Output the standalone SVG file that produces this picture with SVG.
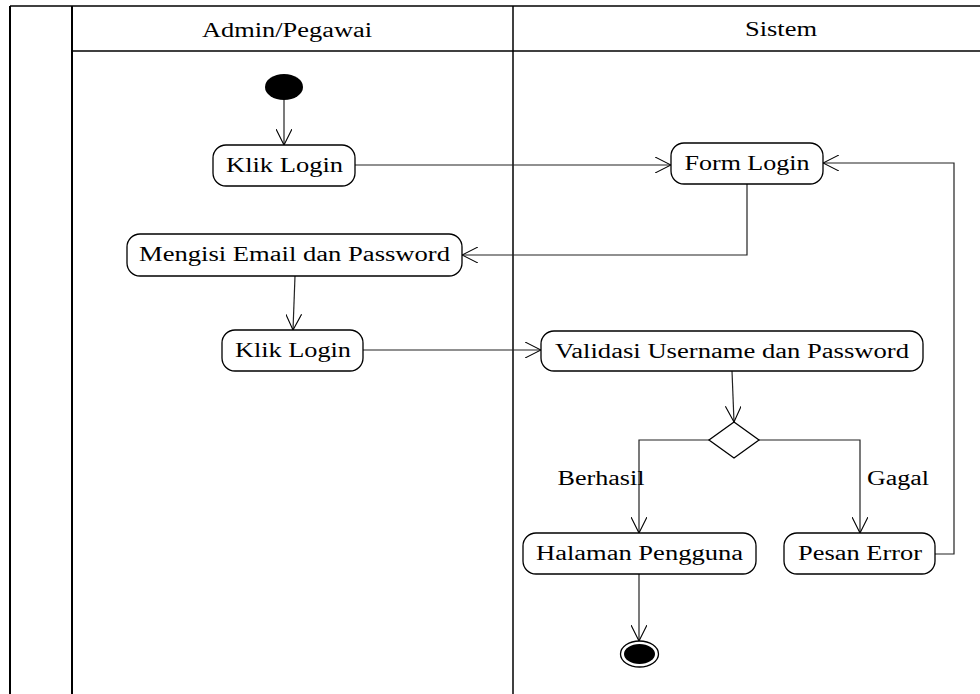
<svg xmlns="http://www.w3.org/2000/svg" width="980" height="694" viewBox="0 0 980 694">
<style>
.t{font-family:"Liberation Serif","Times New Roman",serif;font-size:20px;fill:#000;text-anchor:middle}
.n{fill:#fff;stroke:#000;stroke-width:1.3}
.c{fill:none;stroke:#222;stroke-width:1.2}
.f{stroke:#000;fill:none}
</style>
<defs>
<marker id="a" viewBox="0 0 16 16" refX="16" refY="8" markerWidth="16" markerHeight="16" markerUnits="userSpaceOnUse" orient="auto">
<path d="M0,0 L16,8 L0,16" fill="none" stroke="#000" stroke-width="1.1"/>
</marker>
</defs>
<rect width="980" height="694" fill="#fff"/>
<g id="frame">
<line class="f" x1="10" y1="6" x2="10" y2="694" stroke-width="2" stroke="#333"/>
<line class="f" x1="72" y1="6" x2="72" y2="694" stroke-width="2"/>
<line class="f" x1="513" y1="6" x2="513" y2="694" stroke-width="1.5"/>
<line class="f" x1="10" y1="6" x2="980" y2="6" stroke-width="1.5"/>
<line class="f" x1="72" y1="51" x2="980" y2="51" stroke-width="1.3"/>
<text class="t" x="287" y="37" textLength="170" lengthAdjust="spacingAndGlyphs">Admin/Pegawai</text>
<text class="t" x="781" y="36" textLength="72" lengthAdjust="spacingAndGlyphs">Sistem</text>
</g>
<g id="connectors">
<path class="c" d="M284,99 L284,145" marker-end="url(#a)"/>
<path class="c" d="M355,165 L671,165" marker-end="url(#a)"/>
<path class="c" d="M747,184 L747,255 L462,255" marker-end="url(#a)"/>
<path class="c" d="M295,276 L293,330" marker-end="url(#a)"/>
<path class="c" d="M363,350 L541,350" marker-end="url(#a)"/>
<path class="c" d="M732,371 L734,422" marker-end="url(#a)"/>
<path class="c" d="M709,440 L639,440 L639,533" marker-end="url(#a)"/>
<path class="c" d="M759,440 L860,440 L860,533" marker-end="url(#a)"/>
<path class="c" d="M935,554 L954,554 L954,163 L823,163" marker-end="url(#a)"/>
<path class="c" d="M639,574 L639,641" marker-end="url(#a)"/>
<text class="t" x="601" y="485" textLength="87" lengthAdjust="spacingAndGlyphs">Berhasil</text>
<text class="t" x="898" y="485" textLength="62" lengthAdjust="spacingAndGlyphs">Gagal</text>
</g>
<g id="start"><ellipse cx="284" cy="87" rx="19" ry="13" fill="#000"/></g>
<g id="klik1"><rect class="n" x="213" y="145" width="142" height="41" rx="13"/><text class="t" x="284.5" y="172" textLength="117" lengthAdjust="spacingAndGlyphs">Klik Login</text></g>
<g id="mengisi"><rect class="n" x="127" y="234" width="335" height="42" rx="13"/><text class="t" x="294.5" y="261" textLength="311" lengthAdjust="spacingAndGlyphs">Mengisi Email dan Password</text></g>
<g id="klik2"><rect class="n" x="222" y="330" width="141" height="41" rx="13"/><text class="t" x="293" y="357" textLength="116" lengthAdjust="spacingAndGlyphs">Klik Login</text></g>
<g id="form"><rect class="n" x="671" y="143" width="152" height="41" rx="13"/><text class="t" x="747" y="170" textLength="125" lengthAdjust="spacingAndGlyphs">Form Login</text></g>
<g id="validasi"><rect class="n" x="541" y="331" width="382" height="40" rx="13"/><text class="t" x="732" y="358" textLength="354" lengthAdjust="spacingAndGlyphs">Validasi Username dan Password</text></g>
<g id="decision"><polygon class="n" points="734,422 759,440 734,458 709,440"/></g>
<g id="halaman"><rect class="n" x="523" y="533" width="233" height="41" rx="13"/><text class="t" x="639.5" y="560" textLength="207" lengthAdjust="spacingAndGlyphs">Halaman Pengguna</text></g>
<g id="pesan"><rect class="n" x="784" y="533" width="151" height="41" rx="13"/><text class="t" x="860" y="560" textLength="124" lengthAdjust="spacingAndGlyphs">Pesan Error</text></g>
<g id="end"><ellipse cx="639.5" cy="654" rx="19" ry="13" fill="#fff" stroke="#000" stroke-width="1.3"/><ellipse cx="639.5" cy="654" rx="15.5" ry="10" fill="#000"/></g>
</svg>
